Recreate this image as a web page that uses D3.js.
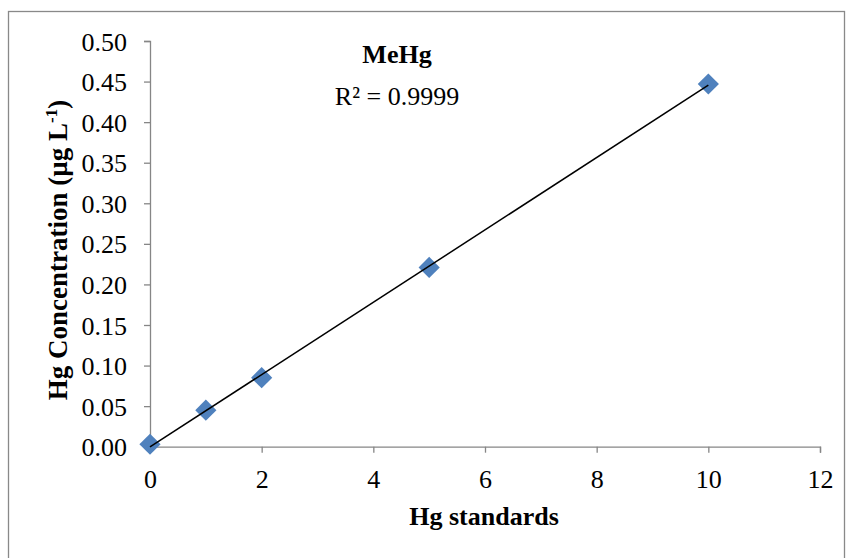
<!DOCTYPE html>
<html>
<head>
<meta charset="utf-8">
<script src="https://cdn.jsdelivr.net/npm/d3@7"></script>
<style>
  html, body { margin: 0; padding: 0; background: #fff; }
  svg text { font-family: "Liberation Serif", "Times New Roman", serif; }
</style>
</head>
<body>
<svg id="chart" width="847" height="558"></svg>
<script>
// Calibration standards and measured MeHg concentrations
const standards = [0, 1, 2, 5, 10];
const concentrations = [0.003, 0.045, 0.085, 0.221, 0.447];
const xTicks = [0, 2, 4, 6, 8, 10, 12];
const yTicks = [0, 0.05, 0.10, 0.15, 0.20, 0.25, 0.30, 0.35, 0.40, 0.45, 0.50];
const chartTitle = "MeHg";
const r2Label = "R² = 0.9999";

const svg = d3.select("#chart");
const margin = { left: 150, top: 41, right: 820, bottom: 446.7 };
const fontSize = 26;

// Outer chart frame
svg.append("rect")
  .attr("x", 8.5).attr("y", 11.5)
  .attr("width", 836).attr("height", 560)
  .attr("fill", "none").attr("stroke", "#898989").attr("stroke-width", 1.3);

const x = d3.scaleLinear().domain([0, 12]).range([margin.left, margin.right]);
const y = d3.scaleLinear().domain([0, 0.5]).range([margin.bottom, margin.top]);

const axisColor = "#868686";

// Y axis
const yAxis = svg.append("g")
  .attr("transform", `translate(${margin.left},0)`)
  .call(d3.axisLeft(y).tickValues(yTicks).tickFormat(d3.format(".2f")).tickSize(6).tickPadding(17));
// X axis
const xAxis = svg.append("g")
  .attr("transform", `translate(0,${margin.bottom})`)
  .call(d3.axisBottom(x).tickValues(xTicks).tickFormat(d3.format("d")).tickSize(6).tickPadding(17));

[yAxis, xAxis].forEach(g => {
  g.select(".domain").attr("stroke", axisColor).attr("stroke-width", 1.3);
  g.selectAll(".tick line").attr("stroke", axisColor).attr("stroke-width", 1.3);
  g.selectAll(".tick text").attr("fill", "#000").style("font-size", fontSize + "px")
    .style("font-family", "'Liberation Serif', 'Times New Roman', serif");
});
yAxis.selectAll(".tick text").attr("dy", "0.35em");
xAxis.selectAll(".tick text").attr("dy", "0.71em");

// Linear least-squares trendline over the standards range
const n = standards.length;
const mx = d3.mean(standards), my = d3.mean(concentrations);
let sxy = 0, sxx = 0;
for (let i = 0; i < n; i++) {
  sxy += (standards[i] - mx) * (concentrations[i] - my);
  sxx += (standards[i] - mx) ** 2;
}
const slope = sxy / sxx;
const intercept = my - slope * mx;
const xMin = d3.min(standards), xMax = d3.max(standards);

// Diamond markers
const diamond = d3.symbol().type(d3.symbolSquare).size(225);
svg.append("g").selectAll("path")
  .data(standards.map((s, i) => [s, concentrations[i]]))
  .join("path")
  .attr("d", diamond)
  .attr("transform", d => `translate(${x(d[0])},${y(d[1])}) rotate(45)`)
  .attr("fill", "#4F81BD");

// Trendline drawn over the markers
svg.append("line")
  .attr("x1", x(xMin)).attr("y1", y(intercept + slope * xMin))
  .attr("x2", x(xMax)).attr("y2", y(intercept + slope * xMax))
  .attr("stroke", "#000").attr("stroke-width", 1.5);

// Titles
svg.append("text").attr("x", 397).attr("y", 63)
  .attr("text-anchor", "middle").style("font-size", fontSize + "px").style("font-weight", "bold")
  .text(chartTitle);
svg.append("text").attr("x", 397).attr("y", 105)
  .attr("text-anchor", "middle").style("font-size", fontSize + "px")
  .text(r2Label);

svg.append("text").attr("x", 484).attr("y", 525)
  .attr("text-anchor", "middle").style("font-size", fontSize + "px").style("font-weight", "bold")
  .text("Hg standards");

const yTitle = svg.append("text")
  .attr("transform", "translate(67,250) rotate(-90)")
  .attr("text-anchor", "middle").style("font-size", "27px").style("font-weight", "bold");
yTitle.append("tspan").text("Hg Concentration (µg L");
yTitle.append("tspan").attr("dy", "-10").style("font-size", "17px").text("-1");
yTitle.append("tspan").attr("dy", "10").text(")");
</script>
</body>
</html>
